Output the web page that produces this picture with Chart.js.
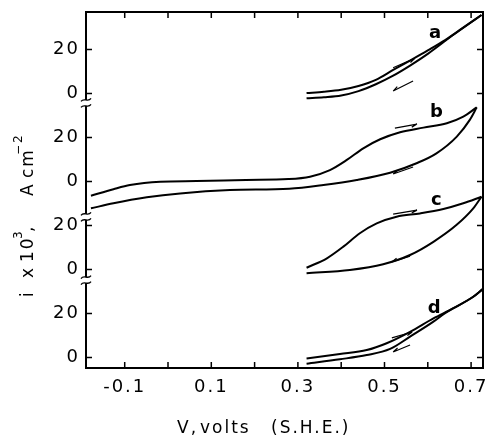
<!DOCTYPE html>
<html>
<head>
<meta charset="utf-8">
<script src="https://cdn.jsdelivr.net/npm/chart.js@4"></script>
<style>
  html, body { margin: 0; padding: 0; background: #fff; }
  canvas { display: block; }
</style>
</head>
<body>
<canvas id="cv" width="486" height="437"></canvas>
<script>
// Four voltammograms stacked on one axis, each panel shifted by 40 units
const offsetA = 120, offsetB = 80, offsetC = 40, offsetD = 0;

// a
const aFwdV = [0.32, 0.36, 0.40, 0.44, 0.48, 0.52, 0.56, 0.60, 0.64, 0.68, 0.724];
const aFwdI = [0.2, 0.8, 1.7, 3.4, 6.2, 10.7, 15.1, 19.6, 24.3, 29.7, 35.7];
const aRevV = [0.32, 0.36, 0.40, 0.44, 0.48, 0.52, 0.56, 0.60, 0.66, 0.724];
const aRevI = [-2.2, -1.7, -0.9, 1.1, 4.2, 8.1, 12.8, 18.0, 26.8, 35.7];

// b
const bFwdV = [-0.178, -0.126, -0.088, -0.018, 0.066, 0.18, 0.278, 0.328, 0.374, 0.413, 0.451, 0.49, 0.536, 0.59, 0.644, 0.682, 0.713];
const bFwdI = [-6.5, -3.5, -1.6, -0.1, 0.2, 0.7, 1.1, 2.2, 5.2, 9.8, 15.1, 19.2, 22.4, 24.5, 26.5, 29.5, 33.7];
const bRevV = [-0.178, -0.126, -0.049, 0.028, 0.143, 0.28, 0.359, 0.436, 0.513, 0.574, 0.62, 0.667, 0.697, 0.713];
const bRevI = [-12.2, -9.9, -7.2, -5.4, -3.9, -3.3, -1.6, 0.7, 4.0, 8.3, 12.8, 20.4, 28.0, 33.7];

// c
const cFwdV = [0.32, 0.367, 0.405, 0.443, 0.482, 0.528, 0.582, 0.636, 0.682, 0.724];
const cFwdI = [0.8, 5.1, 10.4, 16.5, 21.0, 24.0, 25.5, 27.5, 30.1, 33.1];
const cRevV = [0.32, 0.42, 0.497, 0.559, 0.613, 0.666, 0.705, 0.724];
const cRevI = [-1.7, -0.2, 2.4, 6.6, 12.6, 20.2, 27.8, 33.1];

// d
const dFwdV = [0.32, 0.397, 0.459, 0.505, 0.559, 0.613, 0.659, 0.705, 0.727];
const dFwdI = [-0.4, 1.6, 3.4, 6.5, 11.7, 17.8, 22.4, 27.6, 31.1];
const dRevV = [0.32, 0.397, 0.459, 0.513, 0.559, 0.613, 0.64, 0.705, 0.727];
const dRevI = [-2.8, -0.8, 1.1, 3.9, 9.5, 16.3, 20.2, 27.6, 31.1];

const xTickValues = [-0.1, 0, 0.1, 0.2, 0.3, 0.4, 0.5, 0.6, 0.7];
const xTickLabels = ['-0.1', '', '0.1', '', '0.3', '', '0.5', '', '0.7'];
const yTickValues = [0, 20, 40, 60, 80, 100, 120, 140];
const yTickLabels = ['0', '20', '0', '20', '0', '20', '0', '20'];

// where the left axis is broken between panels
const axisBreaks = [35.2, 63.9, 115.7];

// sweep direction arrows: [offset, V from, i from, V to, i to]
const sweepArrows = [
  [offsetA, 0.52, 11.7, 0.57, 16.0], [offsetA, 0.566, 5.7, 0.52, 1.1],
  [offsetB, 0.524, 24.3, 0.575, 26.1], [offsetB, 0.566, 6.6, 0.52, 3.4],
  [offsetC, 0.52, 25.2, 0.575, 27.0], [offsetC, 0.559, 6.1, 0.517, 3.4],
  [offsetD, 0.517, 8.9, 0.564, 11.6], [offsetD, 0.559, 5.7, 0.52, 2.5]
];
const curveTags = [
  ['a', offsetA, 0.617, 27.5], ['b', offsetB, 0.62, 31.6],
  ['c', offsetC, 0.62, 31.6], ['d', offsetD, 0.615, 22.5]
];

const FONT = '"DejaVu Sans", sans-serif';

function branch(vs, is, off) {
  return {
    data: vs.map((v, k) => ({ x: v, y: is[k] + off })),
    showLine: true,
    borderColor: '#000',
    borderWidth: 2,
    pointRadius: 0,
    cubicInterpolationMode: 'monotone'
  };
}

function drawArrow(ctx, x1, y1, x2, y2) {
  const ang = Math.atan2(y2 - y1, x2 - x1);
  ctx.beginPath();
  ctx.moveTo(x1, y1);
  ctx.lineTo(x2, y2);
  ctx.moveTo(x2, y2);
  ctx.lineTo(x2 - 6 * Math.cos(ang - 0.35), y2 - 6 * Math.sin(ang - 0.35));
  ctx.stroke();
}

const decor = {
  id: 'decor',
  beforeUpdate(chart) { chart.ctx.letterSpacing = '2px'; },
  afterDatasetsDraw(chart) {
    const { ctx, chartArea: ca, scales: { x, y } } = chart;
    ctx.save();
    ctx.strokeStyle = '#000';
    ctx.fillStyle = '#000';

    // frame and inward ticks
    ctx.lineWidth = 2;
    ctx.strokeRect(ca.left, ca.top, ca.right - ca.left, ca.bottom - ca.top);
    ctx.lineWidth = 1.5;
    ctx.beginPath();
    xTickValues.forEach(v => {
      const px = x.getPixelForValue(v);
      ctx.moveTo(px, ca.bottom); ctx.lineTo(px, ca.bottom - 6);
      ctx.moveTo(px, ca.top); ctx.lineTo(px, ca.top + 6);
    });
    yTickValues.forEach(v => {
      const py = y.getPixelForValue(v);
      ctx.moveTo(ca.left, py); ctx.lineTo(ca.left + 6, py);
      ctx.moveTo(ca.right, py); ctx.lineTo(ca.right - 6, py);
    });
    ctx.stroke();

    // axis breaks
    axisBreaks.forEach(v => {
      const py = y.getPixelForValue(v);
      const l = ca.left;
      ctx.fillStyle = '#fff';
      ctx.fillRect(l - 2, py - 3, 4, 6);
      ctx.lineWidth = 1.3;
      [py - 3, py + 3].forEach(yy => {
        ctx.beginPath();
        ctx.moveTo(l - 5, yy + 1.5);
        ctx.bezierCurveTo(l - 2, yy - 3, l + 2, yy + 3, l + 5, yy - 1.5);
        ctx.stroke();
      });
    });

    // sweep arrows
    ctx.lineWidth = 1.2;
    sweepArrows.forEach(([off, v1, i1, v2, i2]) => {
      drawArrow(ctx, x.getPixelForValue(v1), y.getPixelForValue(i1 + off),
                     x.getPixelForValue(v2), y.getPixelForValue(i2 + off));
    });

    // curve letters
    ctx.fillStyle = '#000';
    ctx.letterSpacing = '0px';
    ctx.font = 'bold 18px ' + FONT;
    ctx.textAlign = 'center';
    ctx.textBaseline = 'middle';
    curveTags.forEach(([t, off, v, i]) => {
      ctx.fillText(t, x.getPixelForValue(v), y.getPixelForValue(i + off));
    });
    ctx.restore();
  },
  afterDraw(chart) {
    const ctx = chart.ctx;
    ctx.save();
    ctx.fillStyle = '#000';
    ctx.textAlign = 'left';
    ctx.textBaseline = 'alphabetic';
    ctx.letterSpacing = '2px';

    // x title
    ctx.font = '17px ' + FONT;
    ctx.fillText('V,', 177, 433);
    ctx.fillText('volts', 200, 433);
    ctx.fillText('(S.H.E.)', 271, 433);

    // y title, rotated
    ctx.translate(33, 297);
    ctx.rotate(-Math.PI / 2);
    const main = '17px ' + FONT, sup = '12px ' + FONT;
    [['i', 0, 0, main], ['x', 19, 0, main], ['10', 35, 0, main], ['3', 58, -11, sup],
     [',', 65, 0, main], ['A', 101, 0, main], ['cm', 119, 0, main], ['\u22122', 142, -11, sup]]
      .forEach(([t, at, dy, f]) => { ctx.font = f; ctx.fillText(t, at, dy); });
    ctx.restore();
  }
};

const tickFont = { family: FONT, size: 18 };

new Chart(document.getElementById('cv'), {
  type: 'scatter',
  data: {
    datasets: [
      branch(aFwdV, aFwdI, offsetA), branch(aRevV, aRevI, offsetA),
      branch(bFwdV, bFwdI, offsetB), branch(bRevV, bRevI, offsetB),
      branch(cFwdV, cFwdI, offsetC), branch(cRevV, cRevI, offsetC),
      branch(dFwdV, dFwdI, offsetD), branch(dRevV, dRevI, offsetD)
    ]
  },
  options: {
    responsive: false,
    animation: false,
    devicePixelRatio: 1,
    layout: { padding: { left: 0, right: 3, top: 12, bottom: 0 } },
    plugins: { legend: { display: false }, tooltip: { enabled: false } },
    scales: {
      x: {
        type: 'linear',
        min: -0.1894,
        max: 0.7275,
        border: { display: false },
        grid: { display: false, drawTicks: false },
        afterBuildTicks: s => { s.ticks = xTickValues.map(v => ({ value: v })); },
        afterFit: s => { s.height = 69; s.paddingLeft = 0; s.paddingRight = 0; },
        ticks: {
          color: '#000', font: tickFont, padding: 9, maxRotation: 0, autoSkip: false,
          callback: (v, k) => xTickLabels[k]
        }
      },
      y: {
        type: 'linear',
        min: -4.77,
        max: 157.05,
        border: { display: false },
        grid: { display: false, drawTicks: false },
        afterBuildTicks: s => { s.ticks = yTickValues.map(v => ({ value: v })); },
        afterFit: s => { s.width = 86; s.paddingTop = 0; s.paddingBottom = 0; },
        ticks: {
          color: '#000', font: tickFont, padding: 6, autoSkip: false,
          callback: (v, k) => yTickLabels[k]
        }
      }
    }
  },
  plugins: [decor]
});
</script>
</body>
</html>
